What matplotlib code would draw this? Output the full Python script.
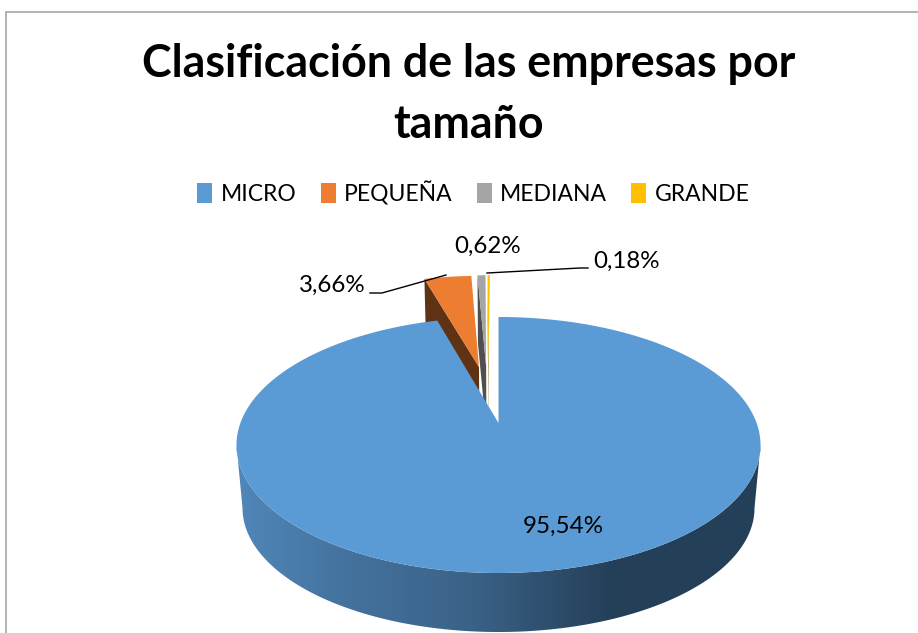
import numpy as np
import matplotlib
matplotlib.use("Agg")
import matplotlib.pyplot as plt
from matplotlib.patches import Polygon, Patch
from matplotlib.colors import LinearSegmentedColormap

# Data
categories = ["MICRO", "PEQUEÑA", "MEDIANA", "GRANDE"]
values = [95.54, 3.66, 0.62, 0.18]
value_labels = ["95,54%", "3,66%", "0,62%", "0,18%"]
title = "Clasificación de las empresas por\ntamaño"

# Style
top_colors = ["#5B9BD5", "#ED7D31", "#A5A5A5", "#FFC000"]
wall_colors = ["#2F5578", "#5F3213", "#4F4F4F", "#7F6000"]
explode = [(0.0, 0.0), (-0.082, 0.488), (-0.052, 0.495), (-0.042, 0.495)]
label_xy = [(563, 526), (332, 285), (488, 246), (626, 261)]

W, H = 918, 633
fig = plt.figure(figsize=(W / 100, H / 100), dpi=100)
ax = fig.add_axes([0, 0, 1, 1])
ax.set_xlim(0, W)
ax.set_ylim(H, 0)
ax.axis("off")
plt.rcParams["font.family"] = "Lato"

CX, A = 498.5, 0.172


def project(u, v, low=False):
    """Perspective view of the unit pie disc, top face or lower face."""
    s = np.sqrt(1 - A ** 2)
    d = 1 + A * v
    up, vp = u * s / d, (v + A) / d
    if low:
        return CX + 256 * up, 508 - 124 * vp
    return CX + 262 * up, 445 - 128 * vp


def arc(t0, t1, n=400):
    t = np.radians(np.linspace(t0, t1, n))
    return np.sin(t), np.cos(t)


# Slice angles clockwise from twelve o'clock
fracs = np.cumsum([0] + values) / np.sum(values) * 360

# Exploded small slices, back to front, with their cut faces
for i in [3, 2, 1]:
    a0, a1 = fracs[i] - 360, fracs[i + 1] - 360
    ex, ey = explode[i]
    u, v = arc(a0, a1, 30)
    u, v = u + ex, v + ey
    xl, yl = project(np.array([ex, u[0]]), np.array([ey, v[0]]))
    xb, yb = project(np.array([u[0], ex]), np.array([v[0], ey]), low=True)
    ax.add_patch(Polygon(np.c_[np.r_[xl, xb], np.r_[yl, yb]], fc=wall_colors[i], ec="none", zorder=2))
    x, y = project(np.r_[ex, u], np.r_[ey, v])
    ax.add_patch(Polygon(np.c_[x, y], fc=top_colors[i], ec="none", zorder=3))

# Micro slice side wall with gradient
a0, a1 = fracs[0], fracs[1]
tstart = np.degrees(np.arccos(-A))
u, v = arc(tstart, 360 - tstart)
xt, yt = project(u, v)
xb, yb = project(u, v, low=True)
wall = Polygon(np.c_[np.r_[xt, xb[::-1]], np.r_[yt, yb[::-1]]], fc="none", ec="none", transform=ax.transData)
ax.add_patch(wall)
cmap = LinearSegmentedColormap.from_list("wall", [(0, "#5087B9"), (0.2, "#44739F"), (0.45, "#3A6287"),
                                                  (0.72, "#243F58"), (1, "#243F58")])
img = ax.imshow(np.linspace(0, 1, 512)[None, :], cmap=cmap, extent=[236, 761, 640, 440],
                aspect="auto", zorder=4, vmin=0, vmax=1)
img.set_clip_path(wall)
ax.set_xlim(0, W)
ax.set_ylim(H, 0)

# Micro slice top face
u, v = arc(a0, a1, 800)
x, y = project(np.r_[0, u], np.r_[0, v])
ax.add_patch(Polygon(np.c_[x, y], fc=top_colors[0], ec="none", zorder=5))

# Frame
ax.plot([5.5, 5.5, W], [H, 11.5, 11.5], color="#A6A6A6", lw=1.2, zorder=1, solid_joinstyle="miter")

# Title
ax.text(469, 94.5, title, ha="center", va="center", fontsize=32.2, fontweight="bold",
        color="black", linespacing=1.53, zorder=6)

# Legend
handles = [Patch(fc=c, ec="none") for c in top_colors]
leg = ax.legend(handles, categories, loc="center", bbox_to_anchor=(473.5 / W, 1 - 193 / H), ncol=4,
                frameon=False, fontsize=16.5, handlelength=0.65, handleheight=0.95, handletextpad=0.38,
                columnspacing=1.04, labelcolor="black", borderpad=0)

# Value labels
for lab, (lx, ly) in zip(value_labels, label_xy):
    ax.text(lx, ly, lab, ha="center", va="center", fontsize=17.4, color="black", zorder=7)

# Leader lines
ax.plot([370, 382, 446], [293, 293, 275], color="black", lw=1, zorder=7)
ax.plot([487, 580, 588], [273, 268, 268], color="black", lw=1, zorder=7)

fig.savefig("out.png", dpi=100)
